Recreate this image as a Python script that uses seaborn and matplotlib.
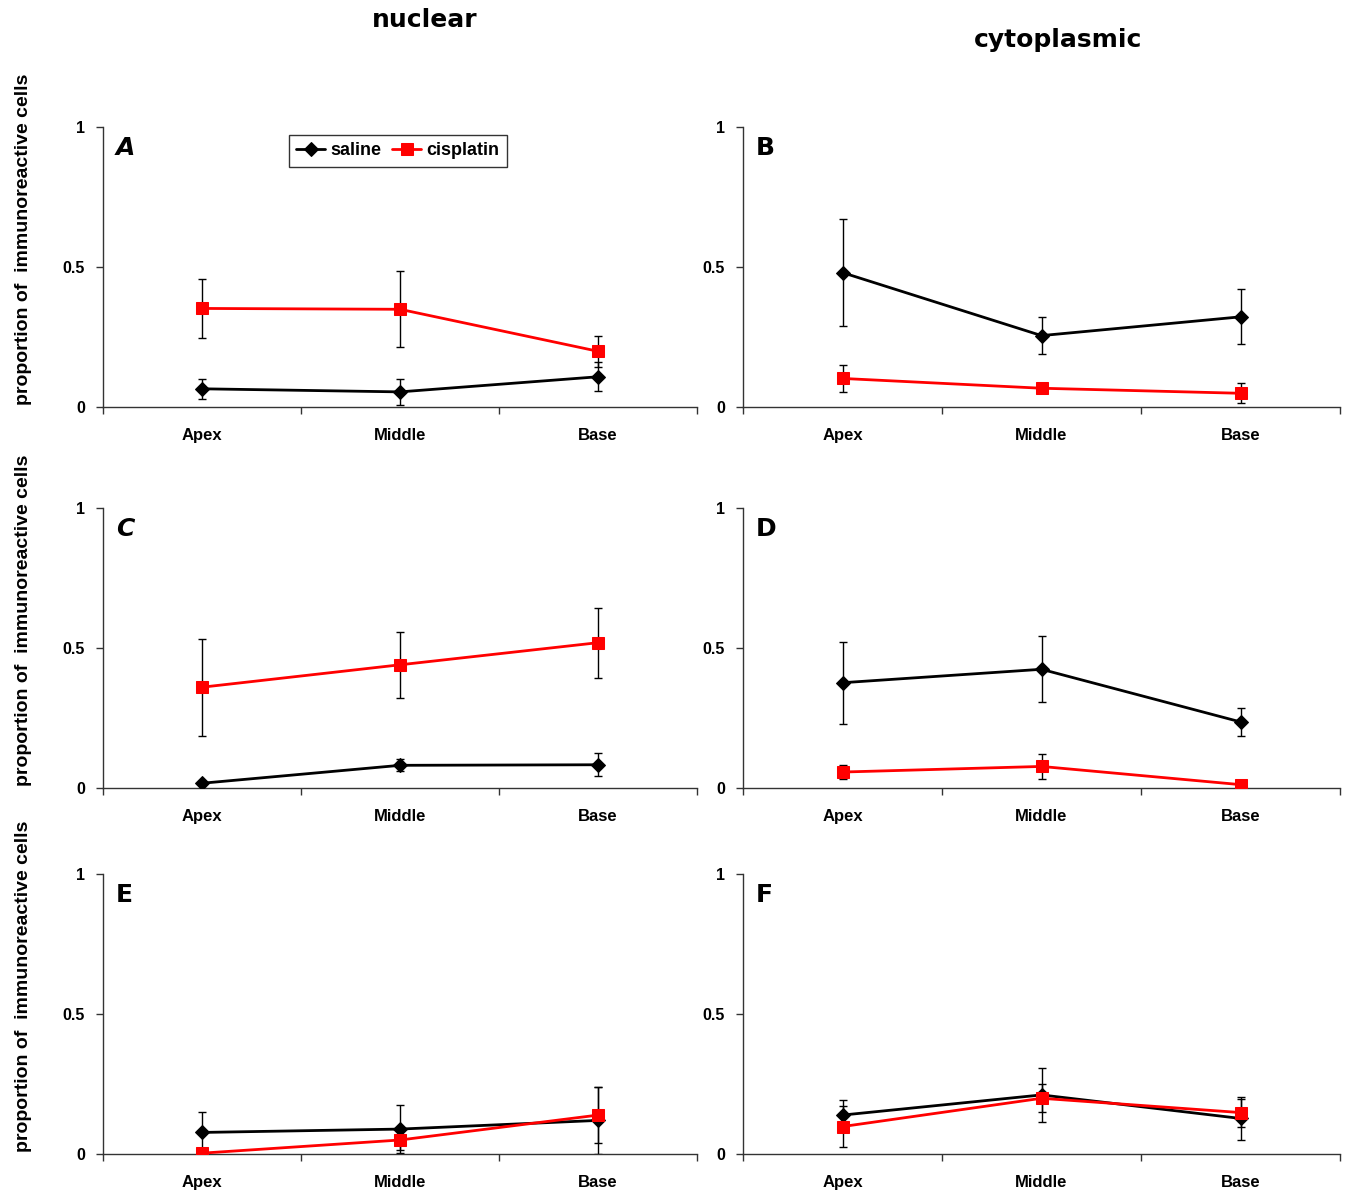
import numpy as np
import pandas as pd
import matplotlib
matplotlib.use("Agg")
import matplotlib.pyplot as plt
import seaborn as sns

regions = ["Apex", "Middle", "Base"]
groups = ["saline", "cisplatin"]
panel_letters = ["A", "B", "C", "D", "E", "F"]
column_titles = ["nuclear", "cytoplasmic"]
ylabel_text = "proportion of  immunoreactive cells"

# mean values per panel
saline_means = {
    "A": [0.065, 0.054, 0.108],
    "B": [0.480, 0.255, 0.322],
    "C": [0.017, 0.081, 0.083],
    "D": [0.376, 0.424, 0.236],
    "E": [0.077, 0.089, 0.120],
    "F": [0.139, 0.211, 0.127],
}
cisplatin_means = {
    "A": [0.352, 0.349, 0.199],
    "B": [0.102, 0.067, 0.049],
    "C": [0.360, 0.440, 0.519],
    "D": [0.057, 0.077, 0.012],
    "E": [0.003, 0.050, 0.139],
    "F": [0.098, 0.199, 0.148],
}
# error bar half-lengths
saline_err = {
    "A": [0.035, 0.047, 0.052],
    "B": [0.190, 0.067, 0.098],
    "C": [0.005, 0.022, 0.041],
    "D": [0.147, 0.118, 0.049],
    "E": [0.073, 0.085, 0.120],
    "F": [0.053, 0.095, 0.078],
}
cisplatin_err = {
    "A": [0.105, 0.135, 0.055],
    "B": [0.049, 0.011, 0.036],
    "C": [0.173, 0.118, 0.125],
    "D": [0.025, 0.046, 0.0],
    "E": [0.0, 0.036, 0.100],
    "F": [0.074, 0.050, 0.050],
}

sns.set_style("white")
plt.rcParams["font.family"] = ["Liberation Sans", "DejaVu Sans"]
plt.rcParams["text.color"] = "black"
plt.rcParams["xtick.color"] = "black"
plt.rcParams["ytick.color"] = "black"
plt.rcParams["axes.labelcolor"] = "black"

W, H = 1348, 1192
fig = plt.figure(figsize=(W / 100, H / 100), dpi=100)

col_x = [(103, 594), (743, 597)]
row_y = [(127, 407), (508, 788), (874, 1154)]

styles = {
    "saline": dict(color="black", marker="D", ms=7),
    "cisplatin": dict(color="#ff0000", marker="s", ms=9),
}

for i, letter in enumerate(panel_letters):
    r, c = divmod(i, 2)
    x0, w = col_x[c]
    top, bot = row_y[r]
    ax = fig.add_axes([x0 / W, 1 - bot / H, w / W, (bot - top) / H])

    rows = []
    for g, means, errs in (("saline", saline_means, saline_err),
                           ("cisplatin", cisplatin_means, cisplatin_err)):
        for k, reg in enumerate(regions):
            rows.append(dict(region=reg, pos=k, group=g,
                             value=means[letter][k], err=errs[letter][k]))
    df = pd.DataFrame(rows)

    for g in groups:
        sub = df[df.group == g]
        st = styles[g]
        ax.errorbar(sub["pos"], sub["value"], yerr=sub["err"], fmt="none",
                    ecolor="black", elinewidth=1.0, capsize=3, capthick=1.0,
                    zorder=2)
        sns.lineplot(data=sub, x="pos", y="value", ax=ax, color=st["color"],
                     marker=st["marker"], markersize=st["ms"],
                     markeredgecolor=st["color"], linewidth=2.0,
                     label=g, legend=False, zorder=3)

    ax.set_xlim(-0.5, 2.5)
    ax.set_ylim(0, 1)
    ax.set_xticks([0, 1, 2])
    ax.set_xticklabels(regions, fontsize=12, fontweight="bold")
    ax.set_xticks([-0.5, 0.5, 1.5, 2.5], minor=True)
    ax.tick_params(axis="x", which="major", length=0, pad=15)
    ax.tick_params(axis="x", which="minor", length=5, width=1,
                   direction="out", color="#333333", bottom=True)
    ax.set_yticks([0, 0.5, 1])
    ax.set_yticklabels(["0", "0.5", "1"], fontsize=11.5, fontweight="bold")
    ax.tick_params(axis="y", length=5, width=1, direction="out",
                   color="#333333", left=True, pad=8)
    for s in ("top", "right"):
        ax.spines[s].set_visible(False)
    for s in ("left", "bottom"):
        ax.spines[s].set_color("#333333")
        ax.spines[s].set_linewidth(1.0)
    ax.set_xlabel("")
    if c == 0:
        ax.set_ylabel(ylabel_text, fontsize=14, fontweight="bold")
        ax.yaxis.set_label_coords(-0.12, 0.6)
    else:
        ax.set_ylabel("")

    style = "italic" if letter in ("A", "C") else "normal"
    ax.text(0.022, 0.925, letter, transform=ax.transAxes, fontsize=18,
            fontweight="bold", style=style, family="DejaVu Sans",
            va="center", ha="left", color="black")

    if letter == "A":
        leg = ax.legend(loc="upper left", bbox_to_anchor=(0.313, 0.971),
                        borderaxespad=0, ncol=2, frameon=True, fancybox=False,
                        prop=dict(size=13, weight="bold"),
                        handlelength=1.6, handletextpad=0.3,
                        columnspacing=0.6, borderpad=0.4)
        leg.get_frame().set_edgecolor("black")
        leg.get_frame().set_linewidth(1.0)

fig.text(425 / W, 1 - 20 / H, column_titles[0], fontsize=18, fontweight="bold",
         family="DejaVu Sans", ha="center", va="center", color="black")
fig.text(1058 / W, 1 - 40 / H, column_titles[1], fontsize=18, fontweight="bold",
         family="DejaVu Sans", ha="center", va="center", color="black")

fig.savefig("out.png", dpi=100, facecolor="white")
